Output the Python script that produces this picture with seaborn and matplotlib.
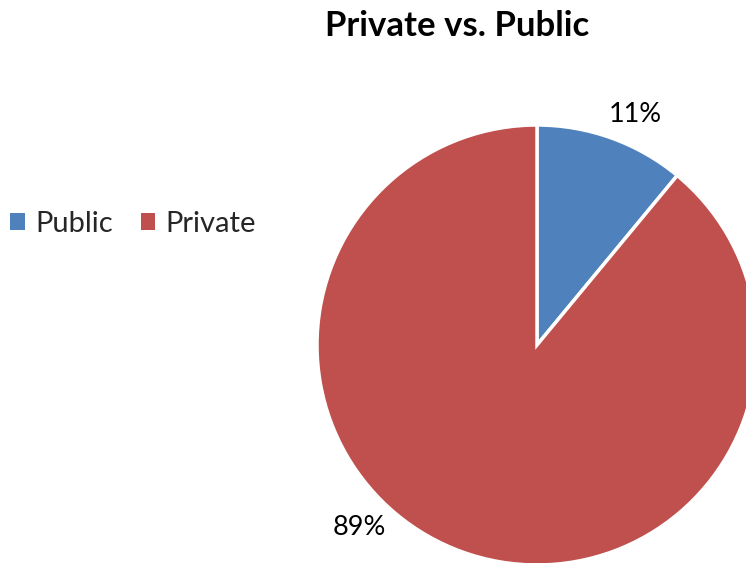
import numpy as np
import matplotlib
matplotlib.use("Agg")
import matplotlib.pyplot as plt
import seaborn as sns
from matplotlib.patches import Patch

sns.set_theme(style="white")
plt.rcParams["font.family"] = ["Lato", "DejaVu Sans"]

categories = ["Public", "Private"]
values = [11, 89]
colors = ["#4F81BD", "#C0504D"]
title = "Private vs. Public"
# label placement: angle (deg, clockwise from top) and distance in radii
label_angles = [23, 224.5]
label_dist = 1.15

W, H = 746, 563
fig = plt.figure(figsize=(W / 100, H / 100), dpi=100)
fig.patch.set_facecolor("white")

cx, cy, r = 537, 345, 220
ax = fig.add_axes([(cx - r) / W, (H - cy - r) / H, 2 * r / W, 2 * r / H])
wedges, _ = ax.pie(values, colors=colors, startangle=90, counterclock=False,
                   radius=1.0, wedgeprops=dict(edgecolor="white", linewidth=2.5))
ax.set_xlim(-1, 1)
ax.set_ylim(-1, 1)
ax.set_aspect("equal")
ax.axis("off")
for w in wedges:
    w.set_clip_on(False)

total = sum(values)
for v, a in zip(values, label_angles):
    t = np.deg2rad(a)
    ax.text(label_dist * np.sin(t), label_dist * np.cos(t) - 0.01,
            f"{round(100 * v / total)}%", ha="center", va="center",
            fontsize=19.5, color="black", clip_on=False)

fig.text(457 / W, 1 - 26 / H, title, ha="center", va="center",
         fontsize=25, fontweight="bold", color="black")

handles = [Patch(facecolor=c, edgecolor="none") for c in colors]
fig.legend(handles, categories, loc="center left",
           bbox_to_anchor=(-10 / W, 1 - 224 / H), ncol=2, frameon=False,
           fontsize=21, handlelength=0.5, handleheight=0.5,
           handletextpad=0.35, columnspacing=0.95, borderpad=0.2)

fig.savefig("out.png", dpi=100, facecolor="white")
